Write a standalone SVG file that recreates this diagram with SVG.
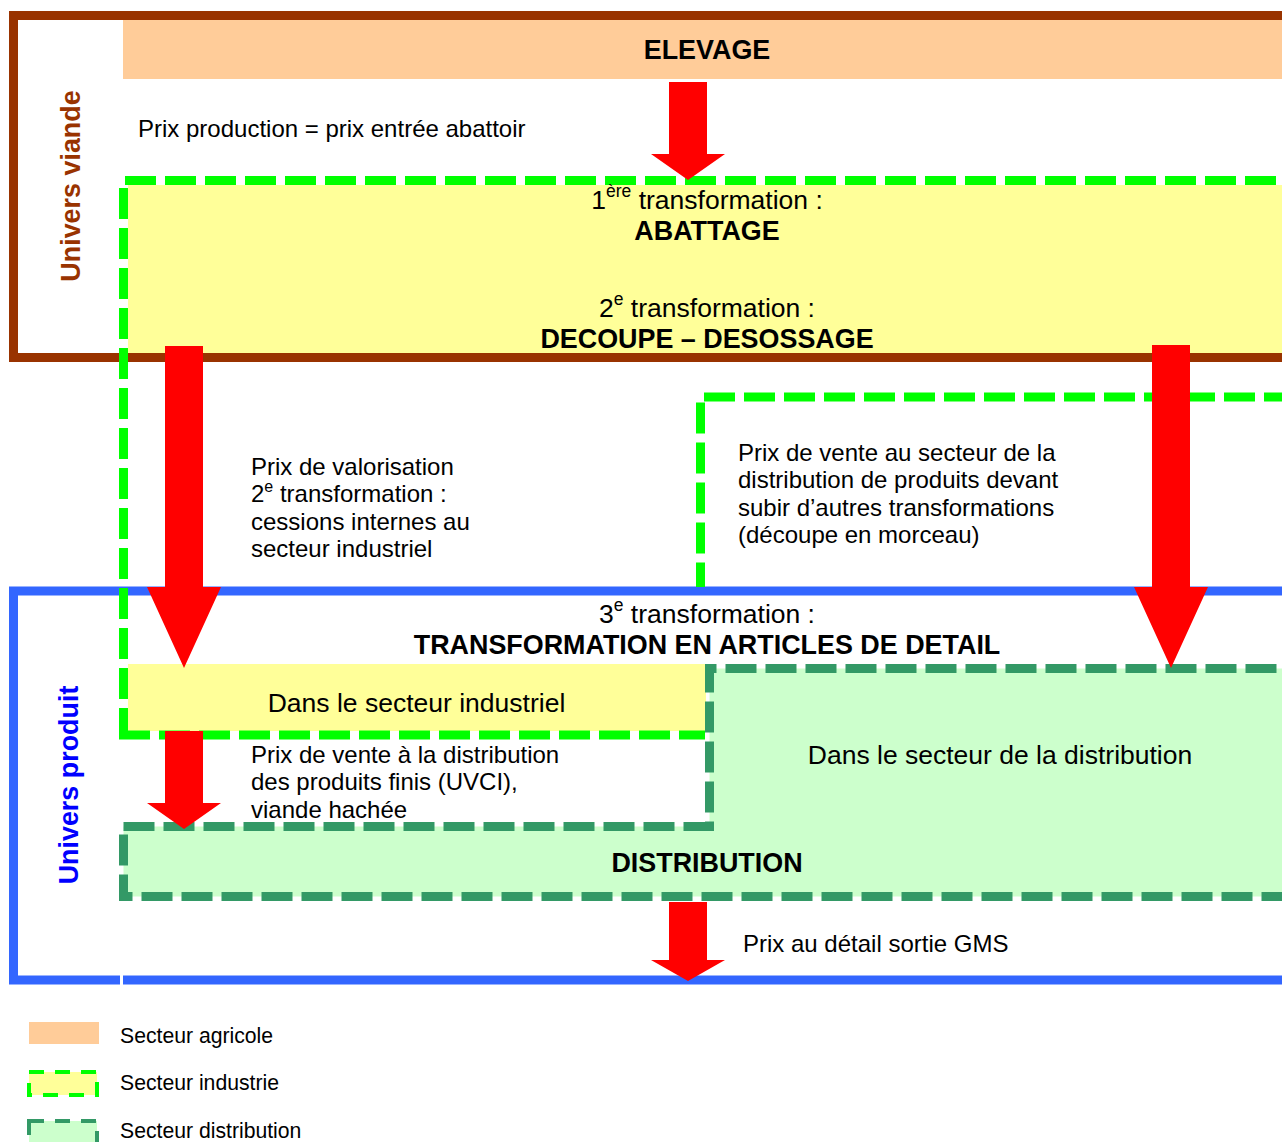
<svg xmlns="http://www.w3.org/2000/svg" width="1282" height="1142" viewBox="0 0 1282 1142">
<style>
  text { font-family: "Liberation Sans", Arial, sans-serif; fill: #000; }
  .t24 { font-size: 24px; }
  .t26 { font-size: 26.5px; }
  .b26 { font-size: 26.9px; font-weight: bold; }
  .leg { font-size: 21.2px; }
  .mid { text-anchor: middle; }
  .ind { fill: none; stroke: #00FF00; stroke-width: 9; stroke-dasharray: 31 9; }
  .dist { fill: #CCFFCC; stroke: #339966; stroke-width: 9; stroke-dasharray: 31 9; }
  .arrow { fill: #FF0000; stroke: none; }
</style>

<g id="univers-viande">
  <rect x="13.5" y="15.5" width="1290" height="342" fill="#FFFFFF" stroke="#993300" stroke-width="9"/>
  <text transform="translate(80,186) rotate(-90)" class="b26 mid" style="fill:#993300">Univers viande</text>
</g>

<g id="univers-produit">
  <rect x="13.5" y="591" width="1290" height="389" fill="#FFFFFF" stroke="#3366FF" stroke-width="9"/>
  <rect x="120" y="975" width="3" height="10" fill="#FFFFFF"/>
  <text transform="translate(78,785) rotate(-90)" class="b26 mid" style="fill:#0000FF">Univers produit</text>
</g>

<g id="elevage">
  <rect x="123" y="20" width="1170" height="59" fill="#FFCC99"/>
  <text x="707" y="59" class="b26 mid">ELEVAGE</text>
</g>

<g id="abattage-decoupe">
  <rect x="128" y="185" width="1165" height="168" fill="#FFFF99"/>
  <path class="ind" d="M123.5,739 V180.5 H1295"/>
  <path class="ind" d="M1295,397 H700.5 V587"/>
  <text x="707" y="209" class="t26 mid">1<tspan font-size="17.5" dy="-12">ère</tspan><tspan dy="12"> transformation :</tspan></text>
  <text x="707" y="240" class="b26 mid">ABATTAGE</text>
  <text x="707" y="317" class="t26 mid">2<tspan font-size="17.5" dy="-12">e</tspan><tspan dy="12"> transformation :</tspan></text>
  <text x="707" y="347.5" class="b26 mid">DECOUPE – DESOSSAGE</text>
</g>

<g id="secteur-industriel">
  <rect x="128" y="664" width="578" height="67" fill="#FFFF99"/>
  <path class="ind" d="M119,735 H705"/>
  <text x="416.5" y="712" class="t26 mid">Dans le secteur industriel</text>
</g>

<g id="distribution">
  <path class="dist" d="M123.5,826.5 H709.5 V668.5 H1295 V896.5 H123.5 Z"/>
  <text x="1000" y="764" class="t26 mid">Dans le secteur de la distribution</text>
  <text x="707" y="871.5" class="b26 mid">DISTRIBUTION</text>
</g>

<g id="transformation-3">
  <text x="707" y="623" class="t26 mid">3<tspan font-size="17.5" dy="-12">e</tspan><tspan dy="12"> transformation :</tspan></text>
  <text x="707" y="653.5" class="b26 mid">TRANSFORMATION EN ARTICLES DE DETAIL</text>
</g>

<g id="labels">
  <text x="138" y="137" class="t24">Prix production = prix entrée abattoir</text>
  <text class="t24">
    <tspan x="251" y="474.5">Prix de valorisation</tspan>
    <tspan x="251" y="502">2<tspan font-size="16" dy="-10">e</tspan><tspan dy="10"> transformation :</tspan></tspan>
    <tspan x="251" y="529.5">cessions internes au</tspan>
    <tspan x="251" y="557">secteur industriel</tspan>
  </text>
  <text class="t24">
    <tspan x="738" y="460.5">Prix de vente au secteur de la</tspan>
    <tspan x="738" y="488">distribution de produits devant</tspan>
    <tspan x="738" y="515.5">subir d’autres transformations</tspan>
    <tspan x="738" y="543">(découpe en morceau)</tspan>
  </text>
  <text class="t24">
    <tspan x="251" y="762.5">Prix de vente à la distribution</tspan>
    <tspan x="251" y="790">des produits finis (UVCI),</tspan>
    <tspan x="251" y="817.5">viande hachée</tspan>
  </text>
  <text x="743" y="951.5" class="t24">Prix au détail sortie GMS</text>
</g>

<g id="connectors">
  <polygon class="arrow" points="669,82 707,82 707,154 725,154 688,180 651,154 669,154"/>
  <polygon class="arrow" points="165,346 203,346 203,587 221,587 184,668 147,587 165,587"/>
  <polygon class="arrow" points="1152,345 1190,345 1190,587 1208,587 1171,668 1134,587 1152,587"/>
  <polygon class="arrow" points="165,731 203,731 203,803 221,803 184,829 147,803 165,803"/>
  <polygon class="arrow" points="669,902 707,902 707,960 725,960 688,981 651,960 669,960"/>
</g>

<g id="legend">
  <rect x="29" y="1022" width="70" height="22" fill="#FFCC99"/>
  <text x="120" y="1043" class="leg">Secteur agricole</text>
  <rect x="29" y="1072" width="68" height="23" fill="#FFFF99" stroke="#00FF00" stroke-width="4" stroke-dasharray="15 11"/>
  <text x="120" y="1090" class="leg">Secteur industrie</text>
  <rect x="29" y="1121" width="68" height="30" fill="#CCFFCC" stroke="#339966" stroke-width="4" stroke-dasharray="15 11"/>
  <text x="120" y="1138" class="leg">Secteur distribution</text>
</g>
</svg>
